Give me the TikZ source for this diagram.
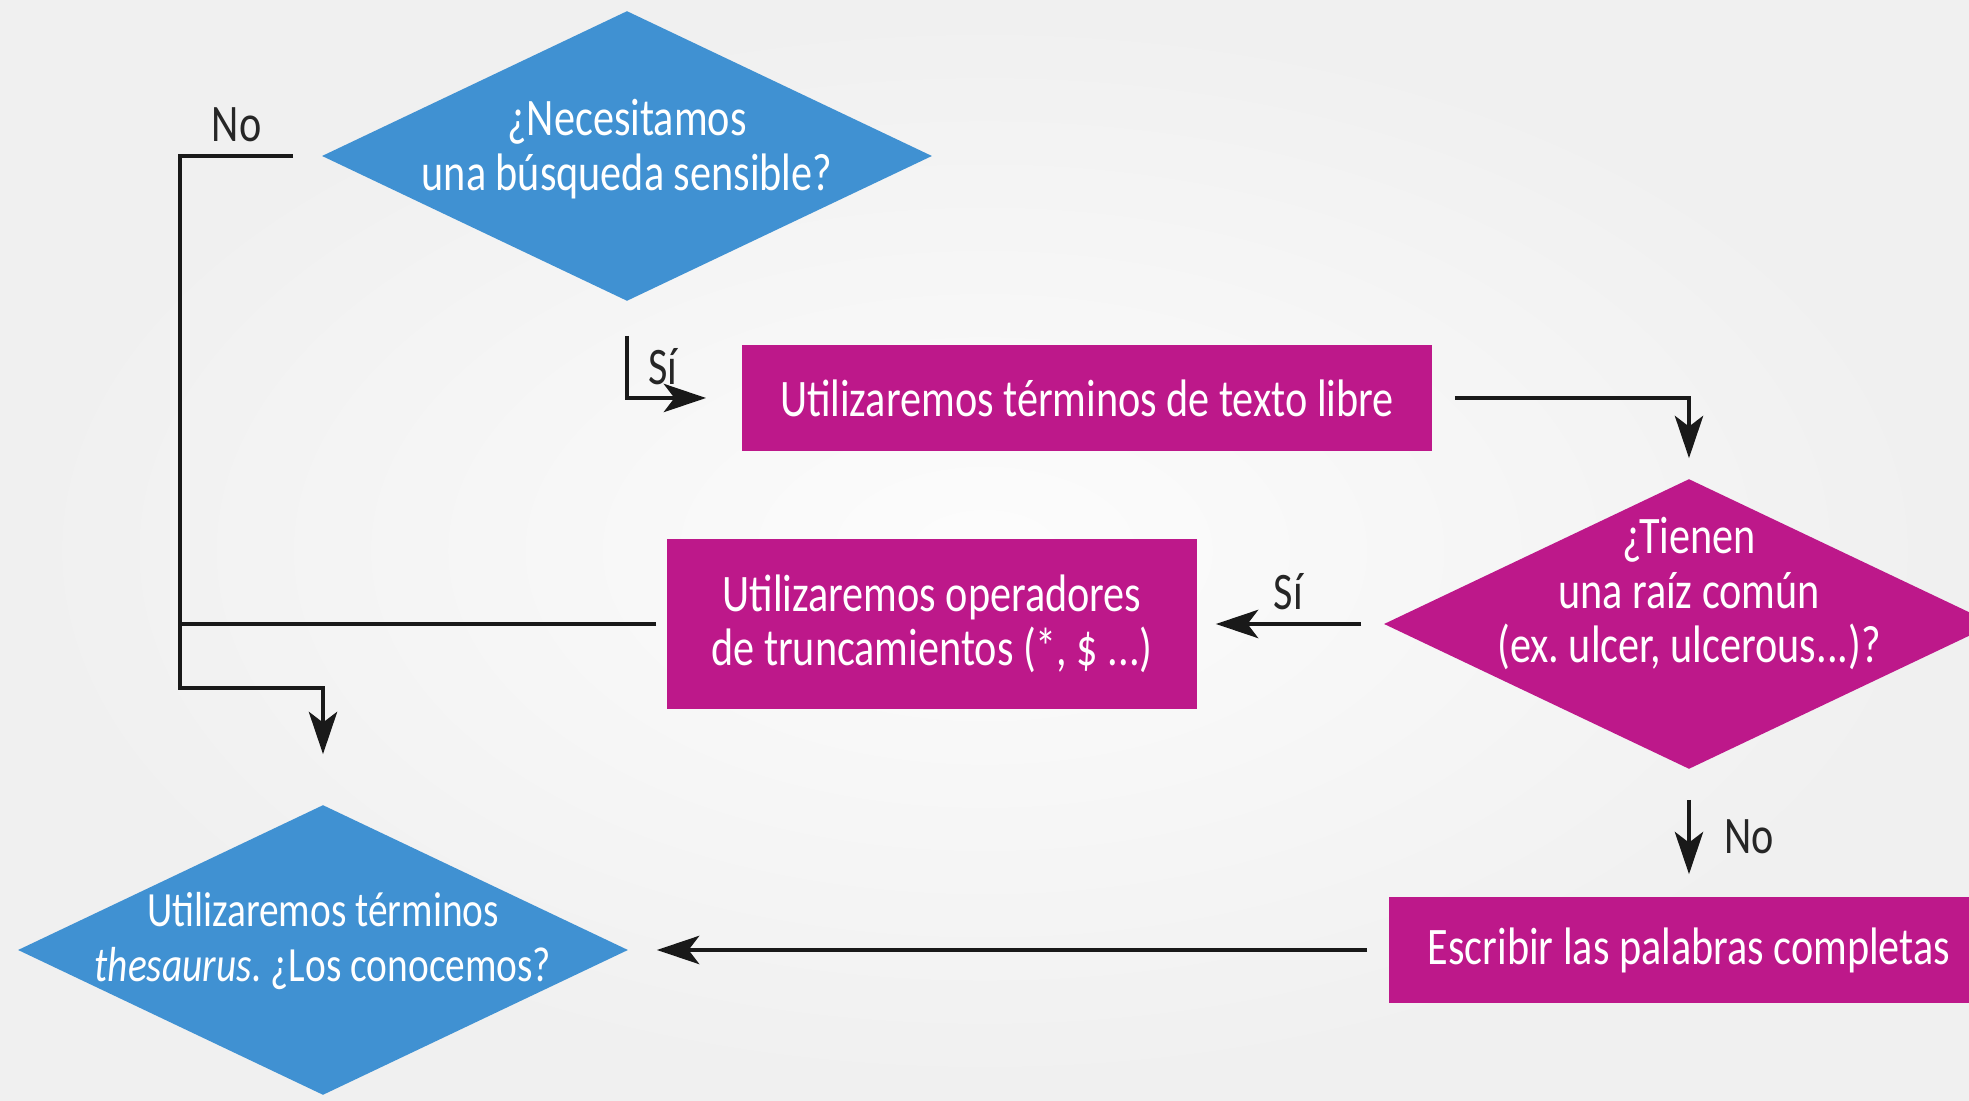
\documentclass[tikz,border=0pt]{standalone}
\usepackage{fontspec}
\setmainfont{Carlito}[FakeStretch=0.8]
\frenchspacing
\usetikzlibrary{shapes.geometric,arrows.meta}
\definecolor{qblue}{RGB}{64,145,210}
\definecolor{qmagenta}{RGB}{189,24,138}
\tikzset{
	decision/.style={shape=diamond,fill=#1,minimum width=6.1cm,minimum height=2.9cm,inner sep=0pt},
	qtext/.style={text=white,align=center,font=\fontsize{15}{15.5}\selectfont},
	process/.style={qtext,shape=rectangle,fill=qmagenta,minimum height=1.06cm,inner sep=0pt},
	flow/.style={draw=black!90,line width=1.4pt},
	tag/.style={font=\fontsize{15}{15}\selectfont,text=black!85},
}

\begin{document}
\begin{tikzpicture}[x=0.01cm,y=-0.01cm,>={Stealth[length=12pt,width=8pt,inset=3pt]}]
    % paper
    \shade[inner color=white!99!black,outer color=white!94!black] (0,0) rectangle (1969,1101);
    \useasboundingbox (0,0) rectangle (1969,1101);

    % shapes
    \node[decision=qblue] (d1) at (627,156) {};
    \node[qtext] (d1text) at ([yshift=0.07cm]d1.center) {¿Necesitamos\\una búsqueda sensible?};
    \node[process,minimum width=6.9cm] (b1) at (1087,398) {Utilizaremos términos de texto libre};

    \node[decision=qmagenta] (d2) at (1689,624) {};
    \node[qtext] (d2text) at ([yshift=0.3cm]d2.center) {¿Tienen\\una raíz común\\(ex. ulcer, ulcerous...)?};
    \node[process,minimum width=5.3cm,minimum height=1.7cm] (b2) at (932,624) {Utilizaremos operadores\\de truncamientos (*, \$ ...)};

    \node[process,minimum width=6cm] (b3) at (1689,950) {Escribir las palabras completas};
    \node[decision=qblue] (d3) at (323,950) {};
    \node[qtext,font=\fontsize{14}{15.5}\selectfont] (d3text) at ([yshift=0.09cm]d3.center) {Utilizaremos términos\\\textit{thesaurus}. ¿Los conocemos?};

    % connectors
    \coordinate (fork) at (180,688);
    \draw[flow,->] ([xshift=-0.28cm]d1.west) -| node[tag,pos=0.25,above] (no1) {No} (fork) -| ([yshift=0.5cm]d3.north);
    \draw[flow] ([xshift=-0.1cm]b2.west) -- (b2.west -| fork);
    \draw[flow,->] ([yshift=-0.34cm]d1.south) |- node[tag,pos=0.25,right=2pt] (si1) {Sí} ([xshift=-0.35cm]b1.west);
    \draw[flow,->] ([xshift=0.22cm]b1.east) -| ([yshift=0.2cm]d2.north);
    \draw[flow,->] ([xshift=-0.22cm]d2.west) -- node[tag,above] (si2) {Sí} ([xshift=0.18cm]b2.east);
    \draw[flow,->] ([yshift=-0.3cm]d2.south) -- node[tag,right=6pt] (no2) {No} ([yshift=0.22cm]b3.north);
    \draw[flow,->] ([xshift=-0.21cm]b3.west) -- ([xshift=0.28cm]d3.east);
\end{tikzpicture}
\end{document}
